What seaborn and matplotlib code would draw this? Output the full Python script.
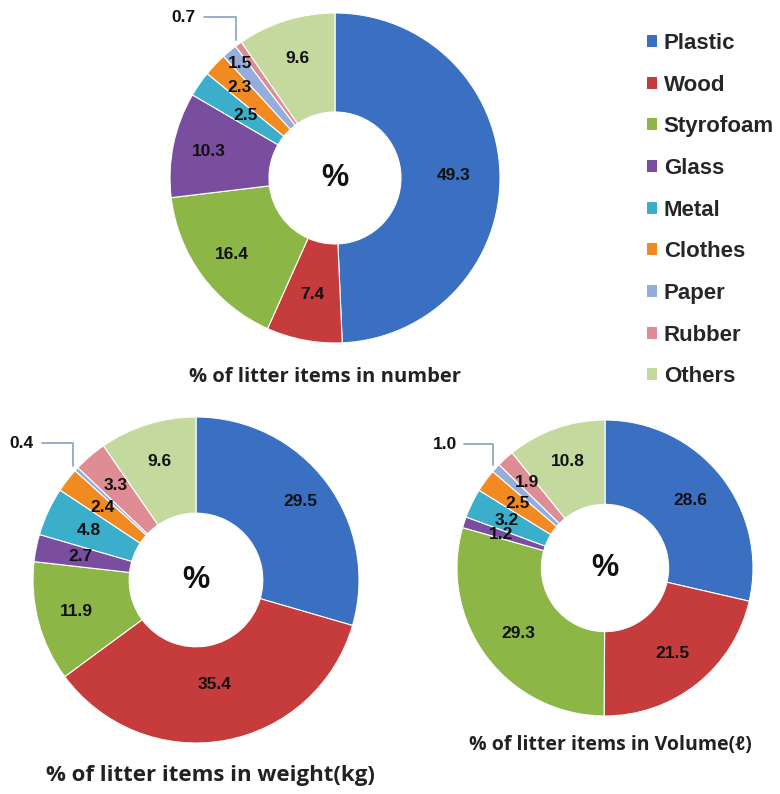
import matplotlib
matplotlib.use("Agg")
import matplotlib.pyplot as plt
import seaborn as sns
import numpy as np
from matplotlib.patches import Patch

sns.set_theme(style="white")
plt.rcParams['font.family'] = ['Liberation Sans', 'DejaVu Sans']

categories = ["Plastic", "Wood", "Styrofoam", "Glass", "Metal", "Clothes", "Paper", "Rubber", "Others"]
pct_number = [49.3, 7.4, 16.4, 10.3, 2.5, 2.3, 1.5, 0.7, 9.6]
pct_weight = [29.5, 35.4, 11.9, 2.7, 4.8, 2.4, 0.4, 3.3, 9.6]
pct_volume = [28.6, 21.5, 29.3, 1.2, 3.2, 2.5, 1.0, 1.9, 10.8]
titles = ["% of litter items in number", "% of litter items in weight(kg)", "% of litter items in Volume(\u2113)"]
colors = ["#3A6FC2", "#C63B3B", "#8CB646", "#7A4E9E", "#3AAECB", "#F28A22", "#93AEDC", "#DE8D94", "#C3D99E"]
leader_item = ["Rubber", "Paper", "Paper"]

W, H = 780, 794
fig = plt.figure(figsize=(W / 100, H / 100), dpi=100)

# chart placement (pixels): center x, center y, radius, hole fraction
specs = [(335, 178, 165, 0.40), (196, 580, 163, 0.41), (605, 568, 148, 0.43)]
datasets = [pct_number, pct_weight, pct_volume]
# label radius overrides (fraction of outer radius)
label_r = [
    {"Paper": 0.90, "Clothes": 0.80, "Metal": 0.66, "Styrofoam": 0.78, "Glass": 0.78, "Others": 0.76},
    {"Plastic": 0.80, "Wood": 0.65, "Styrofoam": 0.76, "Others": 0.76, "Rubber": 0.76},
    {"Others": 0.76, "Rubber": 0.78},
]
LIM = 1.3

for (cx, cy, R, hole), data, lead, lr in zip(specs, datasets, leader_item, label_r):
    size = 2 * LIM * R
    ax = fig.add_axes([(cx - size / 2) / W, (H - cy - size / 2) / H, size / W, size / H])
    wedges, _ = ax.pie(data, colors=colors, startangle=90, counterclock=False,
                       radius=1.0, wedgeprops=dict(width=1 - hole, edgecolor="white", linewidth=0.8))
    ax.set_xlim(-LIM, LIM)
    ax.set_ylim(-LIM, LIM)
    ax.set_aspect("equal")
    ax.axis("off")
    rmid = (1 + hole) / 2 + 0.02
    for w, v, cat in zip(wedges, data, categories):
        ang = np.deg2rad((w.theta1 + w.theta2) / 2)
        if cat == lead:
            x0, y0 = 1.03 * np.cos(ang), 1.03 * np.sin(ang)
            yl = y0 + 0.14
            xe = x0 - 0.19
            ax.plot([x0, x0, xe], [y0, yl, yl], color="#8FA8C8", lw=1.3, clip_on=False)
            ax.text(xe - 0.05, yl, f"{v:.1f}", ha="right", va="center",
                    fontsize=12.5, fontweight="bold", color="#111111")
        else:
            r = lr.get(cat, rmid)
            ax.text(r * np.cos(ang), r * np.sin(ang), f"{v:.1f}", ha="center", va="center",
                    fontsize=12.5, fontweight="bold", color="#111111")
    ax.text(0, 0, "%", ha="center", va="center", fontsize=22, fontweight="bold", color="#111111")

title_pos = [(325, 377, 14.5), (210, 775, 16), (610, 745, 14)]
for t, (tx, ty, fs) in zip(titles, title_pos):
    fig.text(tx / W, 1 - ty / H, t, ha="center", va="center", fontsize=fs, fontweight="bold",
             color="#222222", family=["Open Sans", "DejaVu Sans"])

handles = [Patch(facecolor=c, edgecolor="none") for c in colors]
fig.legend(handles, categories, loc="upper left", bbox_to_anchor=(647 / W, 1 - 33 / H),
           frameon=False, prop=dict(weight="bold", size=16),
           labelspacing=0.93, handlelength=0.45, handleheight=0.45, handletextpad=0.3,
           borderaxespad=0, borderpad=0)

fig.savefig("out.png", dpi=100, facecolor="white")
